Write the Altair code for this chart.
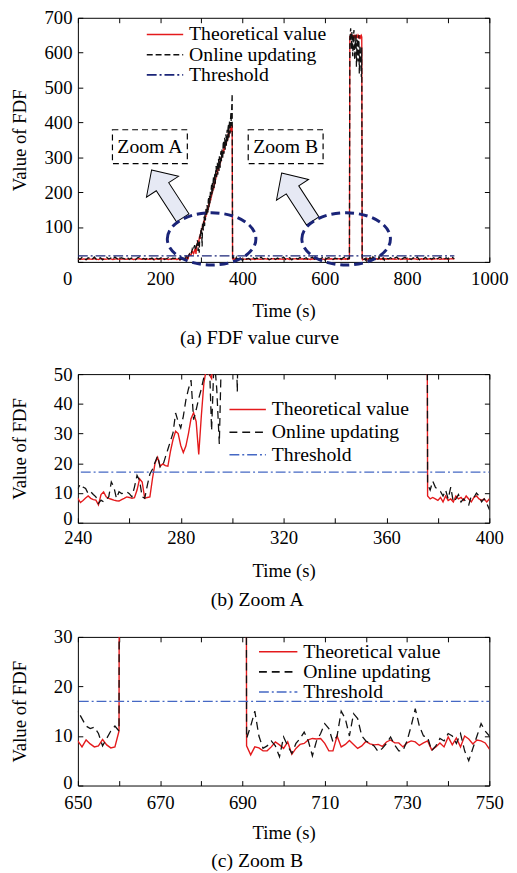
import altair as alt
import pandas as pd

FONT = "Liberation Serif"

# ---------------- time stamps (s) ----------------
T1 = list(range(0, 240, 5))
T2 = list(range(240, 401))
T3 = list(range(405, 650, 5))
T4 = list(range(650, 751))
T5 = list(range(755, 916, 5))

# ---------------- theoretical value ----------------
THEO1 = [8, 9, 7.5, 8.5, 7, 9, 8, 7.5, 9.5, 8,
         7, 8.5, 9, 7.5, 8, 9, 8.5, 7, 8, 9.5,
         7.5, 8, 9, 8, 7.5, 8.5, 9, 7, 8, 8.5,
         9, 7.5, 8, 9, 8, 7.5, 8.5, 7, 9, 8,
         7.5, 8.5, 9, 8, 7, 8.5, 8, 9]
THEO2 = [8.2, 6.8, 7.5, 8.3, 9, 8.2, 7.8, 7.6, 6, 9.5,
         10.4, 8.7, 8.2, 7.9, 7.6, 7.4, 7.3, 7.8, 8.2, 8.7,
         8.5, 8.2, 8.4, 11, 14.8, 13.7, 8.2, 8.5, 8.7, 14.8,
         20, 22, 19, 19.8, 19.2, 19, 24, 28, 30.8, 30,
         26, 23.6, 25.8, 30, 35, 37, 34, 23, 35.8, 47,
         52, 50, 48.5, 61, 57, 68, 74, 66, 80, 88,
         84, 97, 92, 105, 99, 112, 118, 109, 124, 121,
         133, 128, 142, 150, 139, 155, 161, 149, 166, 172,
         165, 180, 186, 176, 193, 188, 204, 198, 211, 217,
         208, 225, 231, 222, 240, 236, 249, 244, 258, 251,
         266, 272, 262, 279, 287, 276, 292, 285, 301, 296,
         309, 302, 316, 322, 311, 328, 320, 337, 331, 342,
         348, 339, 354, 360, 350, 364, 371, 358, 374, 369,
         378, 384, 373, 389, 381, 392,
         9, 8, 8.5, 8,
         7.5, 8.5, 7, 9, 7.5, 8, 7, 9, 8, 8.5,
         7.5, 9, 8, 7, 8.5, 9, 8, 7.5, 8, 7,
         8]
THEO3 = [8, 7.5, 9, 8, 8.5, 7, 9, 8, 7.5, 8.5,
         9, 8, 7, 8.5, 9, 7.5, 8, 9, 8, 7.5,
         8.5, 9, 7, 8, 8.5, 9, 7.5, 8, 9, 8,
         7.5, 8.5, 7, 9, 8, 7.5, 8.5, 9, 8, 7,
         8.5, 8, 9, 7.5, 8, 8.5, 9, 7, 8]
THEO4 = [9, 7.8, 9.2, 8.4, 7.8, 8, 9.3, 8.2, 7.6, 7.8,
         11,
         648, 645, 650, 646, 642, 649, 644, 647, 651, 643,
         646, 648, 641, 645, 650, 644, 647, 643, 649, 646,
         642, 648, 645, 650, 644, 647, 643, 646, 649, 645,
         8, 6.2, 7.8, 7.6, 7, 7, 7.8, 8.8, 8.2, 7.5,
         8.8, 6.3, 7.5, 8.3, 8.5, 9.2, 9.5, 9.4, 9.5, 8.5,
         7, 7, 10, 7.8, 8.3, 9.1, 8.3, 7.5, 8, 8.9,
         8.4, 8.2, 8.3, 7.9, 8.8, 9.2, 8.6, 8.6, 7.8, 8.6,
         9, 8.8, 8.1, 8.6, 9, 7.2, 7.8, 8.6, 7.8, 9.8,
         8.2, 9.6, 7.8, 10, 9.4, 8.4, 9.2, 9, 8.6, 7.4]
THEO5 = [8.5, 8, 9, 7.5, 8, 9.5, 7, 8.5, 8, 9,
         7.5, 8, 9, 8.5, 7, 8, 9, 7.5, 8.5, 8,
         9, 7, 8, 8.5, 9.5, 7.5, 8, 9, 8, 7.5,
         8.5, 9, 8]

# ---------------- online updating ----------------
ONLINE1 = [11, 7, 13, 9, 6, 12, 10, 8, 14, 7,
           9, 12, 6, 10, 13, 8, 11, 7, 14, 9,
           6, 12, 10, 8, 13, 7, 11, 9, 6, 12,
           14, 8, 10, 7, 13, 9, 11, 6, 12, 8,
           10, 14, 7, 9, 12, 6, 11, 10]
ONLINE2 = [11.5, 13, 12, 11.5, 9.8, 10.4, 9.5, 8.7, 6.5, 7.6,
           7, 7.8, 8.7, 13.7, 12, 8.2, 10.4, 9.8, 10, 10.4,
           9.8, 8.7, 12, 15.9, 14.2, 8.7, 8.2, 12.6, 16.4, 18,
           20.3, 22.5, 18.7, 19.2, 22, 24.7, 27.5, 30.2, 36.9, 34,
           31.9, 35.8, 41.3, 45, 48, 34.7, 38, 41.8, 45, 49,
           62, 58, 31, 56, 45, 26.5, 64, 79, 70, 90,
           98, 80, 44, 112, 104, 90, 121, 130, 103, 138,
           119, 146, 156, 131, 163, 150, 141, 178, 183, 154,
           190, 168, 201, 183, 208, 221, 190, 226, 203, 235,
           246, 212, 241, 256, 224, 262, 275, 243, 268, 284,
           250, 278, 296, 261, 303, 285, 270, 310, 318, 289,
           324, 303, 298, 336, 347, 310, 343, 356, 322, 351,
           366, 333, 368, 379, 344, 384, 392, 356, 404, 395,
           368, 410, 428, 390, 447, 482,
           13, 11, 14, 12,
           11, 10.5, 9, 11, 8, 12, 7, 8, 9.5, 7,
           8, 7, 6, 9, 8.5, 10, 9, 7, 8, 6.5,
           4.5]
ONLINE3 = [12, 8, 10, 6, 13, 9, 11, 7, 14, 8,
           10, 12, 6, 9, 13, 7, 11, 8, 10, 14,
           7, 9, 12, 6, 11, 10, 8, 13, 7, 9,
           12, 6, 10, 14, 8, 11, 7, 9, 13, 6,
           10, 12, 8, 7, 11, 9, 13, 8, 12]
ONLINE4 = [15, 13.5, 12, 11.5, 11.8, 10.5, 8, 9.5, 11, 12,
           11,
           640, 655, 670, 632, 610, 660, 645, 590, 625, 650,
           665, 600, 580, 635, 620, 655, 560, 610, 640, 598,
           575, 630, 650, 540, 605, 620, 585, 560, 530, 615,
           9.5, 12, 15, 10, 7.5, 8, 9, 8, 5.8, 9.8,
           8, 6.5, 8.5, 9.5, 10.8, 9, 6, 9, 10.5, 12.5,
           11.5, 8.8, 10, 15, 13.5, 10, 14.5, 13.5, 10, 9,
           8.5, 8, 6.8, 7.5, 8.5, 9.8, 8.2, 7, 7, 9,
           12, 15.5, 12, 10, 9.8, 7, 8, 9.5, 9, 10.5,
           10, 8.5, 10.5, 7, 5, 7.5, 10, 12.5, 11, 10]
ONLINE5 = [9, 12, 7, 11, 14, 8, 6, 10, 13, 9,
           11, 7, 12, 8, 14, 6, 10, 9, 13, 7,
           11, 8, 12, 6, 10, 14, 9, 7, 12, 8,
           10, 13, 9]

THRESHOLD = 17.0
THRESH_T = [0, 915]

LEGEND_LABELS = ["Theoretical value", "Online updating", "Threshold"]

# annotations of panel (a)
ZOOM_LABELS = ["Zoom A", "Zoom B"]
ZOOM_X0 = [84, 414]
ZOOM_X1 = [266, 596]
ZOOM_Y0 = [282, 282]
ZOOM_Y1 = [379, 379]
ZOOM_TX = [175, 505]
ZOOM_TY = [330, 330]
ELLIPSE_T = [325, 652]
ELLIPSE_V = [66, 66]
ARROW_T = [217, 533]
ARROW_V = [195, 186]

# ---------------- styles ----------------
RED = "#e41a1c"
BLACK = "#111111"
NAVY = "#1a2478"
BLUE = "#4568c4"
THR_DASH = [10, 3, 2, 3]
ELLIPSE_PATH = ("M-1,0C-1,-0.325,-0.552,-0.59,0,-0.59C0.552,-0.59,1,-0.325,1,0"
                "C1,0.325,0.552,0.59,0,0.59C-0.552,0.59,-1,0.325,-1,0Z")
ARROW_PATH = "M0,-1L0.67,-0.3L0.26,-0.3L0.26,1L-0.26,1L-0.26,-0.3L-0.67,-0.3Z"

T = T1 + T2 + T3 + T4 + T5
df = pd.DataFrame({"t": T,
                   "theo": THEO1 + THEO2 + THEO3 + THEO4 + THEO5,
                   "online": ONLINE1 + ONLINE2 + ONLINE3 + ONLINE4 + ONLINE5})
thr_df = pd.DataFrame({"t": THRESH_T, "v": [THRESHOLD] * len(THRESH_T)})
legend_df = pd.DataFrame({"label": LEGEND_LABELS, "idx": list(range(len(LEGEND_LABELS)))})
zoom_df = pd.DataFrame({"label": ZOOM_LABELS, "x0": ZOOM_X0, "x1": ZOOM_X1,
                        "y0": ZOOM_Y0, "y1": ZOOM_Y1, "tx": ZOOM_TX, "ty": ZOOM_TY})
ell_df = pd.DataFrame({"t": ELLIPSE_T, "v": ELLIPSE_V})
arr_df = pd.DataFrame({"t": ARROW_T, "v": ARROW_V})

AX_TXT = dict(labelFont=FONT, titleFont=FONT, labelFontSize=19, titleFontSize=19,
              titleFontWeight="normal", labelColor="black", titleColor="black")


def tick_axis(orient, vals):
    return alt.Axis(orient=orient, values=vals, labels=False, domain=False, grid=False,
                    ticks=True, tickSize=5, offset=-5, title=None,
                    tickColor="black", tickWidth=1)


def panel(xdom, ydom, xlabels, xticks, ylabels, yticks, width, height, caption,
          thr_color, online_dash, leg, lab_pad, tit_pad, cap_off,
          annotate=False, zero_offset=None, yzero_offset=None):
    xs = alt.Scale(domain=xdom, nice=False, zero=False)
    ys = alt.Scale(domain=ydom, nice=False, zero=False)
    xkw = dict(values=xlabels, ticks=False, tickSize=0, domain=False, grid=False,
               labelFlush=False, labelPadding=lab_pad, title="Time (s)",
               titlePadding=tit_pad, format="d", **AX_TXT)
    if zero_offset is not None:
        xkw["labelOffset"] = {"condition": {"test": "datum.value == 0", "value": zero_offset},
                              "value": 0}
    ykw = dict(values=ylabels, ticks=False, tickSize=0, domain=False, grid=False,
               labelPadding=6, title="Value of FDF", titleX=-49, format="d", **AX_TXT)
    if yzero_offset is not None:
        ykw["labelOffset"] = {"condition": {"test": "datum.value == 0", "value": yzero_offset},
                              "value": 0}
    main_x = alt.X("t:Q", scale=xs, axis=alt.Axis(**xkw))
    main_y = alt.Y("theo:Q", scale=ys, axis=alt.Axis(**ykw))
    nx = alt.X("t:Q", scale=xs, axis=None)

    theo = alt.Chart(df).mark_line(color=RED, strokeWidth=1.4, clip=True).encode(x=main_x, y=main_y)
    online = alt.Chart(df).mark_line(color=BLACK, strokeWidth=1.3, strokeDash=online_dash,
                                     clip=True).encode(
        x=nx, y=alt.Y("online:Q", scale=ys, axis=None))
    thr = alt.Chart(thr_df).mark_line(color=thr_color, strokeWidth=1.3, strokeDash=THR_DASH,
                                      clip=True).encode(
        x=nx, y=alt.Y("v:Q", scale=ys, axis=None))
    layers = [theo, online, thr]

    if annotate:
        arrows = alt.Chart(arr_df).mark_point(shape=ARROW_PATH, size=3364, filled=True,
                                              fill="#e6e9f4", stroke="black", strokeWidth=1,
                                              angle=327, opacity=1).encode(
            x=nx, y=alt.Y("v:Q", scale=ys, axis=None))
        ells = alt.Chart(ell_df).mark_point(shape=ELLIPSE_PATH, size=8100, filled=False,
                                            color=NAVY, strokeWidth=3, strokeDash=[9, 5],
                                            opacity=1).encode(
            x=nx, y=alt.Y("v:Q", scale=ys, axis=None))
        boxes = alt.Chart(zoom_df).mark_rect(fillOpacity=0, stroke="black", strokeWidth=1.2,
                                             strokeDash=[6, 4]).encode(
            x=alt.X("x0:Q", scale=xs, axis=None), x2="x1:Q",
            y=alt.Y("y0:Q", scale=ys, axis=None), y2="y1:Q")
        btext = alt.Chart(zoom_df).mark_text(font=FONT, fontSize=20, color="black",
                                             align="center", baseline="middle").encode(
            x=alt.X("tx:Q", scale=xs, axis=None), y=alt.Y("ty:Q", scale=ys, axis=None),
            text="label:N")
        layers += [arrows, ells, boxes, btext]

    y0, dy, rx0, rx1, tx = leg
    lg = alt.Chart(legend_df).transform_calculate(ly=f"{y0} + datum.idx * {dy}")
    lrule = lg.mark_rule(strokeWidth=1.6).encode(
        x=alt.value(rx0), x2=alt.value(rx1),
        y=alt.Y("ly:Q", scale=None, axis=None),
        color=alt.Color("label:N", scale=alt.Scale(domain=LEGEND_LABELS,
                                                   range=[RED, BLACK, thr_color]), legend=None),
        strokeDash=alt.StrokeDash("label:N", scale=alt.Scale(domain=LEGEND_LABELS,
                                                             range=[[1, 0], online_dash, THR_DASH]),
                                  legend=None))
    ltext = lg.mark_text(align="left", baseline="middle", font=FONT, fontSize=20,
                         color="black").encode(
        x=alt.value(tx), y=alt.Y("ly:Q", scale=None, axis=None), text="label:N")
    layers += [lrule, ltext]

    tick1 = alt.Chart(thr_df).mark_point(opacity=0, clip=True).encode(
        x=alt.X("t:Q", scale=xs, axis=tick_axis("bottom", xticks)),
        y=alt.Y("v:Q", scale=ys, axis=tick_axis("left", yticks)))
    tick2 = alt.Chart(thr_df).mark_point(opacity=0, clip=True).encode(
        x=alt.X("t:Q", scale=xs, axis=tick_axis("top", xticks)),
        y=alt.Y("v:Q", scale=ys, axis=tick_axis("right", yticks)))
    layers += [tick1, tick2]

    return alt.layer(*layers).resolve_axis(x="independent", y="independent").properties(
        width=width, height=height,
        title=alt.TitleParams(caption, orient="bottom", fontSize=20, font=FONT,
                              fontWeight="normal", offset=cap_off, frame="bounds",
                              anchor="middle", color="black"))


pa = panel([0, 1000], [0, 700], list(range(0, 1001, 200)), list(range(0, 1001, 100)),
           list(range(100, 701, 100)), list(range(0, 701, 100)), 418, 248,
           "(a) FDF value curve", NAVY, [6, 3], (17, 20.5, 70, 107, 113),
           8, 13, 8, annotate=True, zero_offset=-11)
pb = panel([240, 400], [0, 50], list(range(240, 401, 40)), list(range(240, 401, 20)),
           list(range(0, 51, 10)), list(range(0, 51, 10)), 418, 151,
           "(b) Zoom A", BLUE, [8, 5], (36, 23, 154, 191, 197),
           6, 15, 10, yzero_offset=-4)
pc = panel([650, 750], [0, 30], list(range(650, 751, 20)), list(range(650, 751, 10)),
           list(range(0, 31, 10)), list(range(0, 31, 10)), 418, 151,
           "(c) Zoom B", BLUE, [8, 5], (15, 20.5, 184, 223, 229),
           8, 12, 9, yzero_offset=-3)

chart = alt.vconcat(pa, pb, pc, spacing=16).resolve_scale(
    color="independent", strokeDash="independent"
).properties(
    padding={"left": 2, "top": -7, "right": 0, "bottom": 0},
    background="white"
).configure_view(stroke="black", strokeWidth=1)

chart.save("out.html", embed_options={"renderer": "svg", "actions": False})
